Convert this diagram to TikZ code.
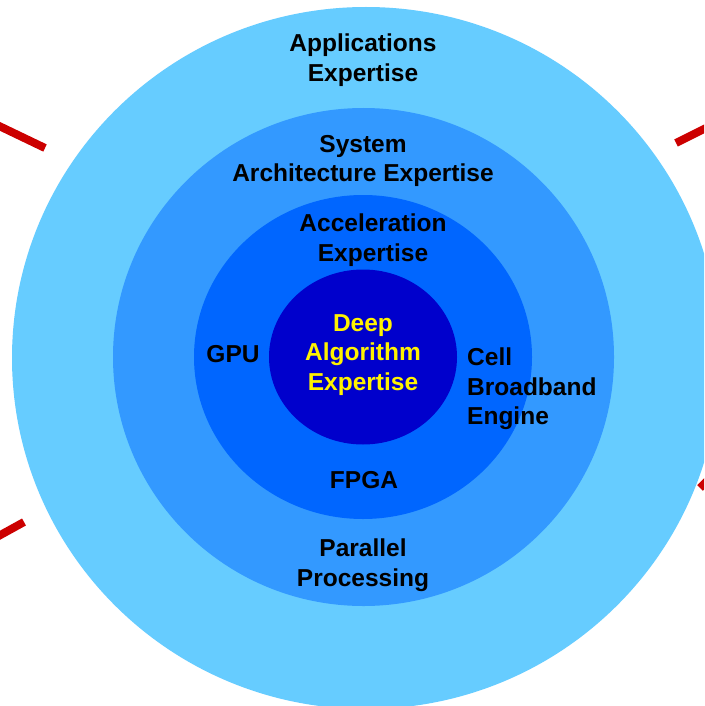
\documentclass[tikz,border=0pt]{standalone}
\usepackage{fontspec}
\setmainfont{Liberation Sans}
\begin{document}
\begin{tikzpicture}[x=1pt,y=-1pt,
  lbl/.style={font=\fontsize{24.5}{29.5}\selectfont\bfseries, align=center, inner sep=0pt, text=black},
  core/.style={lbl, text=yellow},
  tick/.style={draw=red!80!black, line width=8pt}]
\definecolor{ringA}{HTML}{66CCFF}
\definecolor{ringB}{HTML}{3399FF}
\definecolor{ringC}{HTML}{0066FF}
\definecolor{ringD}{HTML}{0000CC}
\clip (0,0) rectangle (704,706);
\fill[white] (0,0) rectangle (704,706);
% red ticks
\draw[tick] (-5,124) -- (45,148);
\draw[tick] (676,143) -- (710,126);
\draw[tick] (-5,538) -- (24,522);
\draw[tick] (700,488) -- (712,476);
% rings
\fill[ringA] (366,358) ellipse [x radius=354, y radius=351];
\fill[ringB] (363.5,357) ellipse [x radius=250.5, y radius=249];
\fill[ringC] (363,357) ellipse [x radius=169, y radius=162];
\fill[ringD] (363,357) ellipse [x radius=94, y radius=87.5];
% labels
\node[lbl] (app) at (363,60) {Applications\\Expertise};
\node[lbl] (sys) at (363,161) {System\\Architecture Expertise};
\node[lbl] (acc) at (373,240) {Acceleration\\Expertise};
\node[core] (deep) at (363,355) {Deep\\Algorithm\\Expertise};
\node[lbl] (gpu) at (233,354) {GPU};
\node[lbl, align=left, anchor=west] (cell) at (467,389) {Cell\\Broadband\\Engine};
\node[lbl] (fpga) at (364,480) {FPGA};
\node[lbl] (par) at (363,565) {Parallel\\Processing};
\end{tikzpicture}
\end{document}
